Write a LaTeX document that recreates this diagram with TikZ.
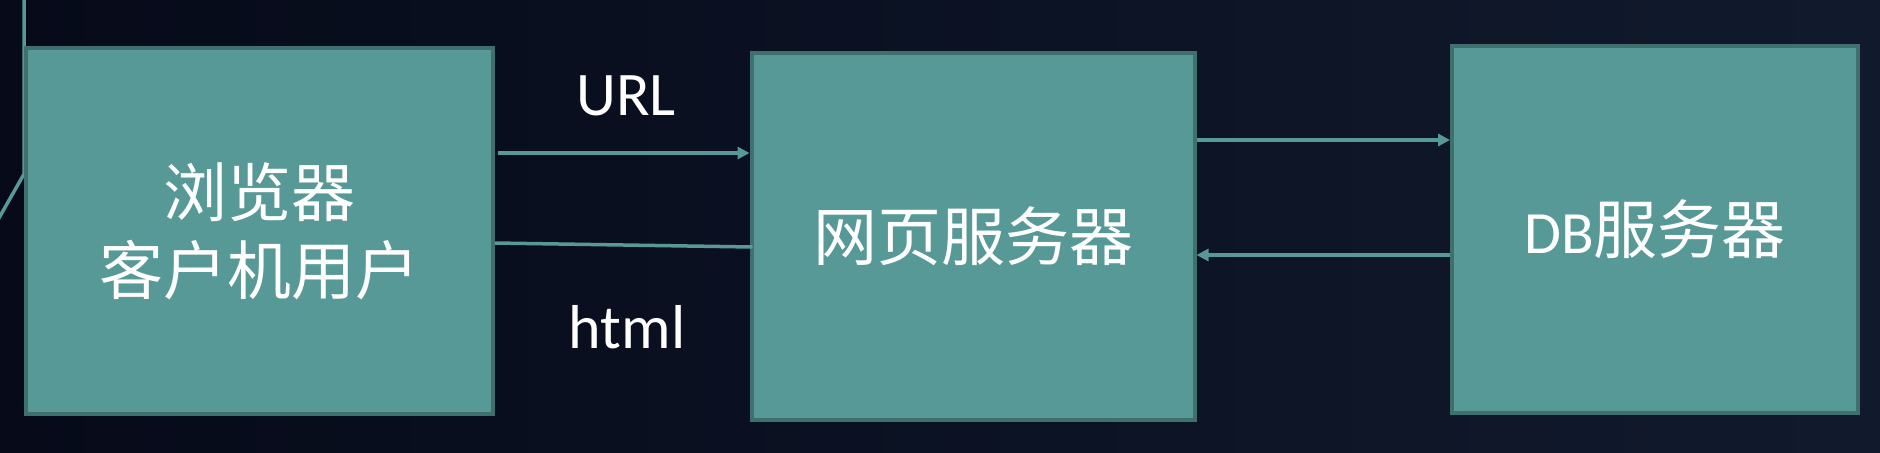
\documentclass[tikz,border=0pt]{standalone}
\usepackage{fontspec}
\setmainfont{Noto Sans CJK SC}
\newfontfamily\cjkf{Noto Sans CJK SC}
\newfontfamily\latinf{Carlito}
\usetikzlibrary{arrows.meta}
\definecolor{bgA}{HTML}{060A19}
\definecolor{bgB}{HTML}{111A2D}
\definecolor{boxfill}{HTML}{579996}
\definecolor{boxedge}{HTML}{3F706E}
\definecolor{wire}{HTML}{579996}
\tikzset{
  boxnode/.style={draw=boxedge, line width=2pt, fill=boxfill, inner sep=0pt, outer sep=1pt,
    text=white, align=center, font={\cjkf\fontsize{32}{39}\selectfont}},
  wireline/.style={draw=wire, line width=1.75pt},
  arrline/.style={wireline, -{Triangle[length=6pt,width=6pt]}},
  lbl/.style={text=white, inner sep=0pt, anchor=base, font={\latinf\fontsize{31}{36}\selectfont}}
}
\begin{document}
\begin{tikzpicture}[x=0.5pt,y=-0.5pt]
\useasboundingbox (0,0) rectangle (1880,452);
\shade[left color=bgA, right color=bgB] (0,0) rectangle (1880,452);
% outside line at the left
\coordinate (topIn) at (24,-5);
\coordinate (bend) at (24,174);
\coordinate (leftOut) at (-5,225);
\draw[wireline] (topIn) -- (bend) -- (leftOut);
% boxes
\node[boxnode, minimum width=233.5pt, minimum height=183pt] (client) at (259.5,231) {浏览器\\客户机用户};
\node[boxnode, minimum width=221.5pt, minimum height=183.5pt] (web) at (973,236.5) {网页服务器};
\node[boxnode, minimum width=203pt, minimum height=183.5pt] (db) at (1655,229.5) {{\latinf\fontsize{30}{36}\selectfont DB}服务器};
% rows
\coordinate (rowURL) at (0,153);
\coordinate (rowHtmlL) at (0,243);
\coordinate (rowHtmlR) at (0,247);
\coordinate (rowUp) at (0,140);
\coordinate (rowDown) at (0,255);
% connectors
\draw[arrline] ([xshift=1.5pt]client.east |- rowURL) -- (web.west |- rowURL);
\draw[wireline] (client.east |- rowHtmlL) -- ([xshift=1.5pt]web.west |- rowHtmlR);
\draw[arrline] (web.east |- rowUp) -- (db.west |- rowUp);
\draw[arrline] (db.west |- rowDown) -- (web.east |- rowDown);
% labels
\node[lbl] (urlLabel) at (626,115) {URL};
\node[lbl] (htmlLabel) at (627,348) {html};
\end{tikzpicture}
\end{document}
